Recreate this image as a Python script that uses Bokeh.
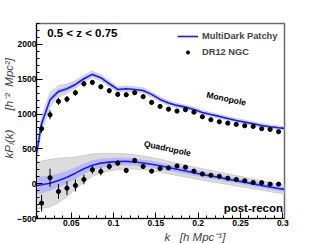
import math
from bokeh.plotting import figure
from bokeh.models import FixedTicker, Label, Legend, LegendItem, Range1d, Title
from bokeh.embed import file_html
from bokeh.resources import INLINE

# ---------------- data ----------------
k_data = [0.015, 0.025, 0.035, 0.045, 0.055, 0.065, 0.075, 0.085, 0.095, 0.105,
          0.115, 0.125, 0.135, 0.145, 0.155, 0.165, 0.175, 0.185, 0.195, 0.205,
          0.215, 0.225, 0.235, 0.245, 0.255, 0.265, 0.275, 0.285, 0.295]

mono_data = [789, 990, 1181, 1214, 1306, 1435, 1454, 1392, 1335, 1282,
             1277, 1306, 1249, 1167, 1109, 1070, 1042, 1062, 1027, 961,
             918, 889, 869, 851, 832, 822, 789, 779, 746]
mono_err = [60, 65, 50, 45, 42, 40, 38, 36, 34, 32,
            31, 30, 29, 28, 27, 26, 25, 25, 24, 24,
            23, 23, 22, 22, 21, 21, 20, 20, 20]

quad_data = [-280, 85, -112, -65, -26, 60, 200, 175, 247, 295,
             190, 333, 247, 180, 218, 226, 254, 236, 180, 139,
             121, 106, 79, 60, 42, 17, 14, -7, -7]
quad_err = [120, 130, 106, 100, 85, 70, 57, 57, 45, 42,
            38, 36, 34, 32, 30, 28, 27, 26, 25, 24,
            23, 22, 21, 20, 20, 19, 19, 18, 18]

k_mock = [0.009, 0.015, 0.025, 0.035, 0.045, 0.055, 0.065, 0.075, 0.085, 0.095,
          0.105, 0.115, 0.125, 0.135, 0.145, 0.155, 0.165, 0.175, 0.185, 0.195,
          0.205, 0.215, 0.225, 0.235, 0.245, 0.255, 0.265, 0.275, 0.285, 0.295, 0.302]

mono_mean = [430, 861, 1205, 1325, 1364, 1425, 1507, 1569, 1522, 1435,
             1353, 1364, 1353, 1339, 1282, 1210, 1157, 1124, 1099, 1066,
             1023, 994, 966, 937, 908, 884, 861, 836, 818, 803, 794]
mono_sigma = [50, 50, 45, 38, 32, 28, 25, 23, 22, 21,
              20, 19, 18, 18, 17, 17, 16, 16, 15, 15,
              15, 14, 14, 14, 13, 13, 13, 13, 12, 12, 12]
mono_spread = [90, 100, 100, 85, 65, 55, 48, 45, 42, 40,
               38, 37, 36, 35, 34, 33, 32, 31, 30, 30,
               29, 28, 28, 27, 27, 26, 26, 25, 25, 25, 25]

quad_mean = [-28, -16, 7, 46, 93, 151, 214, 266, 295, 309,
             319, 320, 312, 298, 280, 258, 232, 206, 182, 157,
             133, 110, 88, 65, 42, 20, -3, -25, -48, -70, -82]
quad_sigma = [125, 120, 110, 100, 92, 84, 76, 70, 65, 60,
              57, 54, 52, 50, 48, 46, 45, 44, 43, 42,
              41, 40, 39, 38, 37, 36, 36, 35, 35, 34, 34]
quad_spread = [330, 340, 340, 320, 280, 230, 190, 160, 140, 125,
               115, 108, 102, 98, 95, 92, 90, 88, 86, 84,
               82, 80, 78, 76, 74, 72, 70, 68, 66, 65, 65]

x_ticks = [0.05, 0.1, 0.15, 0.2, 0.25, 0.3]
x_tick_labels = ["0.05", "0.1", "0.15", "0.2", "0.25", "0.3"]
x_minor = [0.01, 0.02, 0.03, 0.04, 0.06, 0.07, 0.08, 0.09, 0.11, 0.12, 0.13, 0.14,
           0.16, 0.17, 0.18, 0.19, 0.21, 0.22, 0.23, 0.24, 0.26, 0.27, 0.28, 0.29]
y_ticks = [-500, 0, 500, 1000, 1500, 2000]
y_minor = [v for v in range(-400, 2301, 100) if v % 500 != 0]

FONT = "Liberation Sans"
BLUE = "#1a1aff"
NB = "\u00a0"

def lo(m, s):
    return [a - b for a, b in zip(m, s)]

def hi(m, s):
    return [a + b for a, b in zip(m, s)]

p = figure(frame_width=248, frame_height=195,
           x_range=Range1d(0.009, 0.302), y_range=Range1d(-500, 2300),
           output_backend="svg", toolbar_location=None,
           min_border_left=36, min_border_right=32, min_border_top=23, min_border_bottom=25)
p.grid.visible = False
p.background_fill_color = "white"
p.border_fill_color = "white"
p.outline_line_color = "#6a6a6a"
p.outline_line_width = 1.5

# mock bands
for mean, sig, spr in ((mono_mean, mono_sigma, mono_spread), (quad_mean, quad_sigma, quad_spread)):
    p.varea(x=k_mock, y1=lo(mean, spr), y2=hi(mean, spr), fill_color="#dcdcdc")
    p.line(x=k_mock, y=lo(mean, spr), line_color="#c4c4c4", line_width=0.8)
    p.line(x=k_mock, y=hi(mean, spr), line_color="#c4c4c4", line_width=0.8)
    p.varea(x=k_mock, y1=lo(mean, sig), y2=hi(mean, sig), fill_color="#b3b3f5", fill_alpha=0.85)

mono_line = p.line(x=k_mock, y=mono_mean, line_color=BLUE, line_width=1.6)
p.line(x=k_mock, y=quad_mean, line_color=BLUE, line_width=1.6)

# data points
for vals, errs in ((mono_data, mono_err), (quad_data, quad_err)):
    p.segment(x0=k_data, x1=k_data, y0=lo(vals, errs), y1=hi(vals, errs),
              line_color="black", line_width=1)
pts = p.scatter(x=k_data, y=mono_data, size=4.2, color="black")
p.scatter(x=k_data, y=quad_data, size=4.2, color="black")

# axes
xa = p.xaxis[0]
xa.ticker = FixedTicker(ticks=x_ticks, minor_ticks=x_minor)
xa.major_label_overrides = {t: s for t, s in zip(x_ticks, x_tick_labels)}
xa.major_label_standoff = 1
ya = p.yaxis[0]
ya.ticker = FixedTicker(ticks=y_ticks, minor_ticks=y_minor)
ya.major_label_standoff = 0
for ax in (xa, ya):
    ax.axis_line_color = "black"
    ax.major_tick_in = 6
    ax.major_tick_out = 0
    ax.minor_tick_in = 3
    ax.minor_tick_out = 0
    ax.major_tick_line_color = "black"
    ax.minor_tick_line_color = "black"
    ax.major_label_text_font = FONT
    ax.major_label_text_font_style = "bold"
    ax.major_label_text_font_size = "8.5px"
    ax.major_label_text_color = "black"

# axis titles (placed as side titles so they can be offset like the original)
p.add_layout(Title(text="k" + NB * 2 + " [h Mpc\u207b\u00b9]", align="left", offset=128, standoff=0,
                   text_font=FONT, text_font_size="11.5px", text_font_style="italic"), "below")
p.add_layout(Title(text="kP\u2097(k)" + NB * 5 + " [h\u207b\u00b2" + NB + " Mpc\u00b2]",
                   align="left", offset=60, standoff=0,
                   text_font=FONT, text_font_size="11.5px", text_font_style="italic"), "left")

# legend
legend = Legend(items=[LegendItem(label="MultiDark Patchy", renderers=[mono_line]),
                       LegendItem(label="DR12 NGC", renderers=[pts])],
                location=(141, 159), padding=0, margin=0, spacing=2,
                glyph_width=21, glyph_height=8, label_height=14, label_standoff=4,
                label_text_font=FONT, label_text_font_style="bold",
                label_text_font_size="9.3px", background_fill_alpha=0, border_line_alpha=0)
p.add_layout(legend)

def lab(x, y, text, size, style="bold", align="left", baseline="alphabetic", angle=0.0):
    p.add_layout(Label(x=x, y=y, text=text, text_font=FONT, text_font_size=size,
                       text_font_style=style, text_align=align, text_baseline=baseline,
                       angle=angle, text_color="black"))

lab(0.0216, 2165, "0.5 < z < 0.75", "11.5px")
lab(0.3003, -350, "post-recon", "11.5px", align="right")
lab(0.2333, 1220, "Monopole", "8.5px", align="center", baseline="middle", angle=-0.21)
lab(0.1637, 506, "Quadrupole", "8.5px", align="center", baseline="middle", angle=-0.21)

open("out.html", "w").write(file_html(p, INLINE))
